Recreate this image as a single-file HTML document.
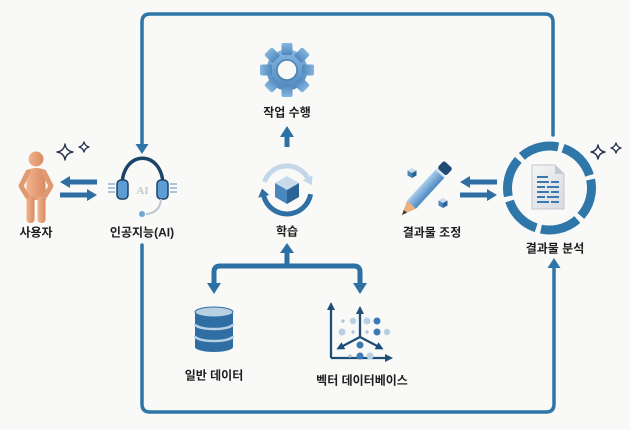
<!DOCTYPE html>
<html><head><meta charset="utf-8"><style>
html,body{margin:0;padding:0;background:#f9f9f8;}
svg{display:block;}
text{font-family:"Liberation Sans","Noto Sans CJK KR",sans-serif;font-weight:bold;font-size:12px;fill:#1e1e1e;text-anchor:middle;}
</style></head><body>
<svg width="630" height="430" viewBox="0 0 630 430" xmlns="http://www.w3.org/2000/svg">
<defs>
<linearGradient id="gear" x1="0" y1="0" x2="0" y2="1"><stop offset="0" stop-color="#86b6e0"/><stop offset="1" stop-color="#4f88bd"/></linearGradient>
<linearGradient id="skin" x1="0" y1="0" x2="1" y2="0"><stop offset="0" stop-color="#f2b48e"/><stop offset="1" stop-color="#d98b62"/></linearGradient>
<linearGradient id="pen" x1="0" y1="0" x2="0" y2="1"><stop offset="0" stop-color="#a9cdec"/><stop offset="1" stop-color="#4a88c0"/></linearGradient>
<linearGradient id="doc" x1="0" y1="0" x2="1" y2="1"><stop offset="0" stop-color="#f4f5f6"/><stop offset="1" stop-color="#d6dadf"/></linearGradient>
<marker id="ah" viewBox="0 0 8 8" refX="5" refY="4" markerWidth="8" markerHeight="8" markerUnits="userSpaceOnUse" orient="auto"><path d="M0,0 L8,4 L0,8 z" fill="#1f4e79"/></marker>
</defs>
<rect width="630" height="430" fill="#f9f9f8"/>

<!-- frame -->
<g fill="none" stroke="#2e75a8" stroke-width="3.5" stroke-linecap="round">
<path d="M142,146 V22 Q142,14 150,14 H545 Q553,14 553,22 V135"/>
<path d="M142,245 V404 Q142,412 150,412 H546 Q554,412 554,404 V266"/>
</g>
<polygon points="135.5,144 148.5,144 142,154" fill="#2e75a8"/>
<polygon points="547.5,268 560.5,268 554,258" fill="#2e75a8"/>

<!-- person -->
<g fill="url(#skin)">
<circle cx="36" cy="159" r="7.5"/>
<path d="M27,170 Q36,166 45,170 L46,200 L26,200 Z"/>
<rect x="26.5" y="196" width="8" height="27" rx="3.5"/>
<rect x="37.5" y="196" width="8" height="27" rx="3.5"/>
</g>
<g fill="none" stroke="#e09a72" stroke-width="5" stroke-linecap="round" stroke-linejoin="round">
<path d="M28,172 L21,186 L27,196"/>
<path d="M44,172 L51,186 L45,196"/>
</g>

<!-- sparkles -->
<g fill="#fff" stroke="#2b3550" stroke-width="1.4" stroke-linejoin="round">
<path d="M65,144 Q66,151 73,152 Q66,153 65,160 Q64,153 57,152 Q64,151 65,144 Z"/>
<path d="M84,142 Q85,146 89,147 Q85,148 84,152 Q83,148 79,147 Q83,146 84,142 Z"/>
<path d="M598,145 Q599,151 605,152 Q599,153 598,159 Q597,153 591,152 Q597,151 598,145 Z"/>
<path d="M616,143 Q617,147 621,148 Q617,149 616,153 Q615,149 611,148 Q615,147 616,143 Z"/>
</g>

<!-- double arrows left -->
<g fill="#2f6ea2">
<polygon points="60,182 70,176 70,179.5 97,179.5 97,184.5 70,184.5 70,188"/>
<polygon points="97,195 87,189 87,192.5 60,192.5 60,197.5 87,197.5 87,201"/>
<polygon points="460,182 470,176 470,179.5 497,179.5 497,184.5 470,184.5 470,188"/>
<polygon points="497,195 487,189 487,192.5 460,192.5 460,197.5 487,197.5 487,201"/>
</g>

<!-- headset -->
<g stroke="#8fb3d3" stroke-width="1.5">
<line x1="108" y1="184" x2="115" y2="184"/><line x1="108" y1="188" x2="115" y2="188"/><line x1="108" y1="192" x2="115" y2="192"/>
<line x1="170" y1="184" x2="177" y2="184"/><line x1="170" y1="188" x2="177" y2="188"/><line x1="170" y1="192" x2="177" y2="192"/>
</g>
<path d="M122,186 C122,149 163,149 163,186" fill="none" stroke="#1c4368" stroke-width="3.5"/>
<rect x="117" y="180" width="11" height="19" rx="4" fill="#5d9dd3" stroke="#1c4368" stroke-width="1.5"/>
<rect x="157" y="180" width="11" height="19" rx="4" fill="#5d9dd3" stroke="#1c4368" stroke-width="1.5"/>
<text x="142.5" y="194" style="font-family:'Liberation Serif',serif;font-size:11px;fill:#c4c9ce;">AI</text>
<path d="M161,199 Q160,213 146,214" fill="none" stroke="#b7c3cf" stroke-width="1.8"/>
<circle cx="142" cy="214" r="3" fill="#6ea6d6"/>

<!-- gear -->
<g transform="translate(287,70)" fill="url(#gear)">
<circle r="20.5"/>
<rect x="-5.5" y="-27" width="11" height="12" rx="2"/>
<rect x="-5.5" y="-27" width="11" height="12" rx="2" transform="rotate(45)"/>
<rect x="-5.5" y="-27" width="11" height="12" rx="2" transform="rotate(90)"/>
<rect x="-5.5" y="-27" width="11" height="12" rx="2" transform="rotate(135)"/>
<rect x="-5.5" y="-27" width="11" height="12" rx="2" transform="rotate(180)"/>
<rect x="-5.5" y="-27" width="11" height="12" rx="2" transform="rotate(225)"/>
<rect x="-5.5" y="-27" width="11" height="12" rx="2" transform="rotate(270)"/>
<rect x="-5.5" y="-27" width="11" height="12" rx="2" transform="rotate(315)"/>
<circle r="10" fill="#f9f9f8" stroke="#4a80b3" stroke-width="1.5"/>
</g>

<!-- up arrow learning -> task -->
<line x1="287" y1="147" x2="287" y2="134" stroke="#2d70a3" stroke-width="5"/>
<polygon points="280,137 294,137 287,126" fill="#2d70a3"/>

<!-- learning icon -->
<path d="M264.4,181.8 A24,24 0 0 1 307.8,178" fill="none" stroke="#c3d7e8" stroke-width="5"/>
<polygon points="311.8,185 312.6,175 303,180.5" fill="#c3d7e8"/>
<path d="M310.6,194.2 A24,24 0 0 1 263.8,196.2" fill="none" stroke="#2f6fa3" stroke-width="5"/>
<polygon points="262,188.5 269.3,195 258.2,197.8" fill="#2f6fa3"/>
<polygon points="287,176 299,183 287,190 275,183" fill="#c9dbea"/>
<polygon points="275,183 287,190 287,204 275,197" fill="#4a87bd"/>
<polygon points="299,183 299,197 287,204 287,190" fill="#2b6496"/>

<!-- branch -->
<path d="M214,286 V272 Q214,266 220,266 H354 Q360,266 360,272 V286" fill="none" stroke="#2d70a3" stroke-width="5"/>
<line x1="287" y1="266" x2="287" y2="251" stroke="#2d70a3" stroke-width="5"/>
<polygon points="280,253 294,253 287,243" fill="#2d70a3"/>
<polygon points="207,283 221,283 214,294" fill="#2d70a3"/>
<polygon points="353,283 367,283 360,294" fill="#2d70a3"/>

<!-- database -->
<rect x="195" y="312" width="38" height="35" fill="#2f6ea3"/>
<ellipse cx="214" cy="347" rx="19" ry="5" fill="#2f6ea3"/>
<path d="M195,324 A19,5 0 0 0 233,324" fill="none" stroke="#b8d0e4" stroke-width="2.5"/>
<path d="M195,336 A19,5 0 0 0 233,336" fill="none" stroke="#b8d0e4" stroke-width="2.5"/>
<ellipse cx="214" cy="312" rx="19" ry="5" fill="#b9d0e3" stroke="#2f6ea3" stroke-width="1"/>

<!-- vector chart -->
<g stroke="#1f4e79" stroke-width="2.3" fill="none">
<path d="M331,358 V305" marker-end="url(#ah)"/>
<path d="M331,358 H390" marker-end="url(#ah)"/>
<path d="M360,337 V309" marker-end="url(#ah)"/>
<path d="M360,337 L339,348" marker-end="url(#ah)"/>
<path d="M360,337 L381,348" marker-end="url(#ah)"/>
</g>
<g>
<circle cx="343" cy="321" r="1.6" fill="#a9c2d8"/>
<circle cx="353" cy="321" r="3.2" fill="#b9cfe2"/>
<circle cx="367" cy="321" r="3.5" fill="#b9cfe2"/>
<circle cx="377" cy="321" r="3.5" fill="#3b7bb5"/>
<circle cx="342" cy="332" r="3.5" fill="#b9cfe2"/>
<circle cx="353" cy="332" r="1.6" fill="#a9c2d8"/>
<circle cx="367" cy="332" r="1.6" fill="#a9c2d8"/>
<circle cx="377" cy="332" r="3.5" fill="#3b7bb5"/>
<circle cx="387" cy="332" r="3.2" fill="#b9cfe2"/>
<circle cx="360" cy="345" r="3.5" fill="#3b7bb5"/>
<circle cx="350" cy="356" r="1.6" fill="#a9c2d8"/>
<circle cx="360" cy="356" r="3.5" fill="#3b7bb5"/>
<circle cx="370" cy="356" r="3.5" fill="#b9cfe2"/>
</g>

<!-- pencil -->
<g transform="translate(402,215) rotate(-47.4)">
<polygon points="0,0 14,-6 14,6" fill="#e9b27c"/>
<polygon points="0,0 5,-2.2 5,2.2" fill="#3a3a3a"/>
<rect x="14" y="-6" width="42" height="12" fill="url(#pen)"/>
<rect x="56" y="-6" width="2.5" height="12" fill="#d7e6f2"/>
<rect x="58.5" y="-6" width="10" height="12" rx="2.5" fill="#1e4a73"/>
</g>
<g>
<polygon points="412,168 416.5,170.5 412,173 407.5,170.5" fill="#c9dbea"/>
<polygon points="407.5,170.5 412,173 412,178 407.5,175.5" fill="#4a87bd"/>
<polygon points="416.5,170.5 416.5,175.5 412,178 412,173" fill="#2b6496"/>
<polygon points="443,198 447.5,200.5 443,203 438.5,200.5" fill="#c9dbea"/>
<polygon points="438.5,200.5 443,203 443,208 438.5,205.5" fill="#4a87bd"/>
<polygon points="447.5,200.5 447.5,205.5 443,208 443,203" fill="#2b6496"/>
</g>

<!-- result ring -->
<circle cx="549.5" cy="188" r="42" fill="none" stroke="#2f77a8" stroke-width="9" stroke-dasharray="39 4.98" transform="rotate(-11.6 549.5 188)"/>
<path d="M532,165 H555 L564,174 V209 H532 Z" fill="url(#doc)" stroke="#c3c8cd" stroke-width="1"/>
<path d="M555,165 V174 H564 Z" fill="#c2cbd4"/>
<g fill="#3a78b0">
<rect x="537" y="176" width="11" height="2"/>
<rect x="537" y="181" width="12" height="2"/><rect x="551" y="181" width="8" height="2"/>
<rect x="537" y="186" width="8" height="2"/><rect x="547" y="186" width="12" height="2"/>
<rect x="537" y="191" width="12" height="2"/><rect x="551" y="191" width="8" height="2"/>
<rect x="537" y="196" width="8" height="2"/><rect x="547" y="196" width="12" height="2"/>
<rect x="537" y="201" width="12" height="2"/><rect x="551" y="201" width="8" height="2"/>
</g>

<!-- labels -->
<text x="36" y="236.5">사용자</text>
<text x="142" y="236.5">인공지능(AI)</text>
<text x="287" y="116.5">작업 수행</text>
<text x="287" y="235.5">학습</text>
<text x="432" y="236.5">결과물 조정</text>
<text x="555" y="252.5">결과물 분석</text>
<text x="214" y="379.5">일반 데이터</text>
<text x="362" y="384.5">벡터 데이터베이스</text>
</svg>
</body></html>
